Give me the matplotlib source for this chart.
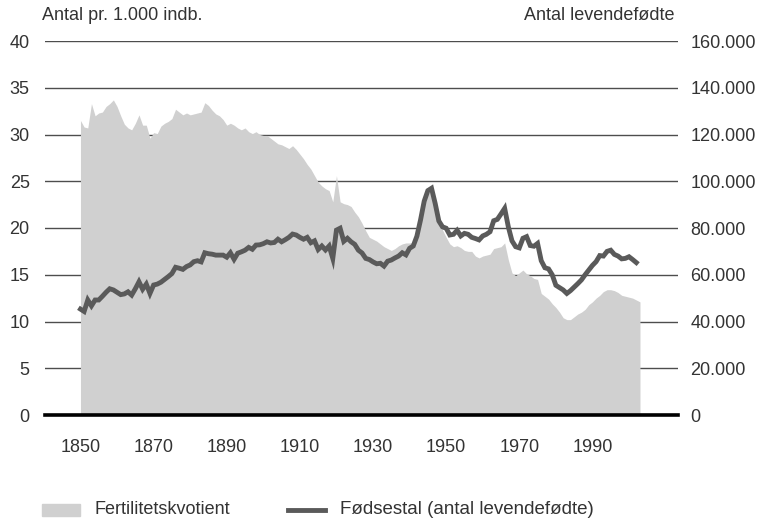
import matplotlib
matplotlib.use("Agg")
import matplotlib.pyplot as plt
from matplotlib.patches import Rectangle
from matplotlib.lines import Line2D
from matplotlib.ticker import FuncFormatter

plt.rcParams['font.family'] = ['Liberation Sans', 'DejaVu Sans']

# fertilitetskvotient, antal pr. 1.000 indb., 1850-2003
fert_years = list(range(1850, 2004))
fert = [
    31.5, 30.8, 30.7, 33.3, 32.0, 32.3, 32.4, 33.0, 33.3, 33.7,
    33.0, 32.0, 31.1, 30.7, 30.5, 31.2, 32.1, 31.0, 31.0, 29.6,
    30.2, 30.1, 30.9, 31.2, 31.4, 31.7, 32.7, 32.4, 32.1, 32.3,
    32.1, 32.2, 32.3, 32.4, 33.4, 33.1, 32.6, 32.2, 32.0, 31.6,
    31.0, 31.2, 31.0, 30.7, 30.5, 30.7, 30.3, 30.1, 30.3, 30.0,
    29.9, 29.9, 29.6, 29.3, 29.0, 28.9, 28.7, 28.5, 28.8, 28.4,
    27.9, 27.4, 26.8, 26.3, 25.6, 24.9, 24.5, 24.2, 24.0, 22.8,
    25.6, 22.8, 22.6, 22.5, 22.3, 21.7, 21.2, 20.5, 19.7, 19.0,
    18.8, 18.6, 18.3, 18.0, 17.8, 17.6, 17.8, 18.1, 18.3, 18.4,
    18.4, 18.5, 19.0, 20.6, 22.6, 23.7, 24.0, 22.3, 21.2, 19.8,
    19.0, 18.3, 18.0, 18.1, 17.9, 17.6, 17.5, 17.5, 17.0, 16.8,
    17.0, 17.1, 17.2, 17.8, 17.9, 18.0, 18.4, 16.6, 15.2, 14.9,
    15.2, 15.5, 15.1, 14.9, 14.6, 14.5, 13.0, 12.7, 12.4, 11.9,
    11.5, 11.0, 10.4, 10.2, 10.2, 10.5, 10.8, 11.0, 11.3, 11.8,
    12.1, 12.5, 12.8, 13.2, 13.4, 13.4, 13.3, 13.1, 12.8, 12.7,
    12.6, 12.5, 12.3, 12.1,
]

# fødselstal, antal levendefødte, 1850-2002
birth_years = list(range(1850, 2003))
births = [
    45300, 44300, 49200, 46700, 49200, 49200, 50800, 52500, 54000, 53500,
    52500, 51500, 51800, 52700, 51300, 54000, 57000, 53800, 56000, 52000,
    55600, 56000, 56800, 58000, 59200, 60500, 63200, 62800, 62300, 63500,
    64200, 65600, 66000, 65500, 69400, 69000, 68800, 68400, 68400, 68400,
    67500, 69400, 66600, 69200, 69800, 70500, 71700, 70900, 72700, 72800,
    73300, 74100, 73600, 73800, 75200, 74100, 75000, 76000, 77400, 77000,
    76000, 75200, 76000, 73700, 74500, 70800, 72300, 70600, 72300, 67000,
    79100, 79900, 74300, 75600, 74100, 73000, 70500, 69300, 67000, 66500,
    65500, 64700, 64900, 63700, 65800, 66300, 67200, 68000, 69400, 68500,
    71300, 72300, 76500, 83500, 91500, 96000, 97000, 90500, 83000, 80500,
    79900, 77000, 77300, 79000, 76600, 77700, 77300, 76000, 75500, 74900,
    76600, 77300, 78400, 83100, 83700, 86000, 88400, 80500, 74500, 72000,
    71500, 75600, 76300, 72500, 72200, 73400, 66000, 63000, 62500, 60000,
    55500, 54500, 53500, 52000, 53200, 54700, 56200, 57800, 60000, 62000,
    64000, 65600, 68200, 68000, 70000, 70500, 68700, 68000, 66800, 67000,
    67700, 66500, 65200,
]

left_ticks = [0, 5, 10, 15, 20, 25, 30, 35, 40]
x_ticks = [1850, 1870, 1890, 1910, 1930, 1950, 1970, 1990]

area_col = '#d0d0d0'
line_col = '#5a5a5a'
txt_col = '#333333'
fs = 13

fig = plt.figure(figsize=(7.62, 5.21), dpi=100)
ax = fig.add_axes([45/762, 106/521, 633/762, 374/521])
ax2 = ax.twinx()

for t in left_ticks[1:]:
    ax.axhline(t, color='#4d4d4d', lw=1.0, zorder=0)
ax.fill_between(fert_years, fert, 0, color=area_col, lw=0, zorder=1)
ax.axhline(0, color='black', lw=2.6, zorder=3, clip_on=False)

ax2.plot(birth_years, births, color=line_col, lw=3.5, solid_joinstyle='miter')

ax.set_xlim(1840.3, 2013.4)
ax.set_ylim(0, 40)
ax2.set_ylim(0, 160000)
ax.set_yticks(left_ticks)
ax2.set_yticks([t * 4000 for t in left_ticks])
ax.set_xticks(x_ticks)
ax2.yaxis.set_major_formatter(FuncFormatter(lambda v, p: f'{int(v):,}'.replace(',', '.')))

for a in (ax, ax2):
    for s in a.spines.values():
        s.set_visible(False)
    a.tick_params(length=0, labelsize=fs, labelcolor=txt_col)
ax.tick_params(axis='y', pad=11)
ax.tick_params(axis='x', pad=17)
ax2.tick_params(axis='y', pad=9)

fig.text(42/762, 1 - 16/521, 'Antal pr. 1.000 indb.', fontsize=fs, color=txt_col, va='center', ha='left')
fig.text(675/762, 1 - 16/521, 'Antal levendefødte', fontsize=fs, color=txt_col, va='center', ha='right')

# legend drawn by hand
ly = 1 - 510/521
fig.add_artist(Rectangle((42/762, 1 - 516/521), 38/762, 12/521, color=area_col, transform=fig.transFigure))
fig.add_artist(Line2D([288/762, 325/762], [ly, ly], color=line_col, lw=3.5, transform=fig.transFigure))
fig.text(95/762, ly, 'Fertilitetskvotient', fontsize=fs, color=txt_col, va='center', ha='left')
fig.text(340/762, ly, 'Fødsestal (antal levendefødte)', fontsize=13.5, color=txt_col, va='center', ha='left')

fig.savefig('out.png', dpi=100)
